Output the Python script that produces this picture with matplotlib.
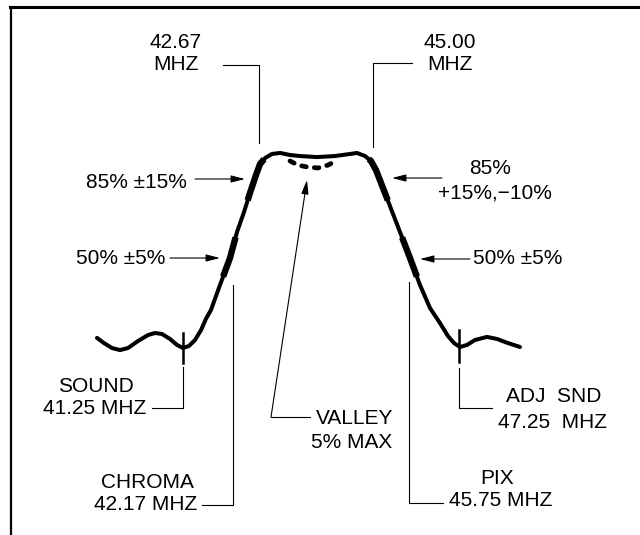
"""IF response curve with tolerance markers (recreated diagram)."""
import matplotlib.pyplot as plt
import numpy as np

plt.rcParams["font.family"] = ["Liberation Sans", "DejaVu Sans"]

# response curve: horizontal drawing position and relative response (%)
curve_x = [97, 104, 112, 120, 128, 138, 148, 155, 162, 170, 177, 183, 189,
           195, 201, 206, 211, 220, 230, 237, 244, 250, 256, 260, 265, 272,
           280, 290, 300, 317, 335, 350, 357, 365, 371, 376, 383, 390, 400,
           410, 420, 430, 440, 448, 454, 460, 467, 475, 487, 497, 508, 520]
curve_pct = [11.2, 8.7, 6.3, 5.3, 6.3, 9.7, 12.6, 13.6, 13.1, 10.7, 7.8, 6.3,
             7.3, 10.2, 15.0, 20.5, 24.8, 36.9, 50.0, 62.6, 72.3, 81.6, 90.3,
             95.6, 98.5, 100.5, 101.0, 100.0, 99.5, 99.0, 99.5, 100.5, 101.0,
             99.5, 97.1, 92.7, 84.0, 75.2, 62.6, 50.0, 36.9, 25.7, 18.4, 12.1,
             8.7, 6.8, 7.8, 10.2, 11.7, 10.7, 8.7, 6.8]

# dotted valley inside the pass band
valley_x = [290, 298, 307, 318, 328, 336]
valley_pct = [97.1, 95.1, 94.2, 93.7, 95.1, 97.1]

# tolerance regions drawn heavier on the slopes (upper %, lower %)
tol_bands = [(98, 78), (60, 41)]

# carrier markers: position, top %, bottom %
carrier_x = [183, 459]
carrier_top = [13.6, 15.0]
carrier_bot = [-1.0, -0.5]

fig = plt.figure(figsize=(6.4, 5.35), dpi=100)

# drawing layer in page units (pixels, y down)
ann = fig.add_axes([0, 0, 1, 1])
ann.set_xlim(0, 640)
ann.set_ylim(535, 0)
ann.axis("off")

# curve layer: response in percent
ax = fig.add_axes([0, 0, 1, 1], sharex=ann)
ax.patch.set_alpha(0)
ax.axis("off")
top_px, half_px = 155, 258
px_per_pct = (half_px - top_px) / 50
zero_px = top_px + 100 * px_per_pct
ax.set_ylim((zero_px - 535) / px_per_pct, zero_px / px_per_pct)

ax.plot(curve_x, curve_pct, color="black", lw=2.9,
        solid_joinstyle="round", solid_capstyle="round")
ax.plot(valley_x, valley_pct, color="black", lw=3.4,
        linestyle=(0, (1.0, 1.7)), dash_capstyle="round")

# heavier tolerance segments on both slopes
cx = np.array(curve_x, dtype=float)
cp = np.array(curve_pct)
for hi, lo in tol_bands:
    for side in (slice(12, 27), slice(33, 45)):
        xs, ps = cx[side], cp[side]
        order = np.argsort(ps)
        x_hi = np.interp(hi, ps[order], xs[order])
        x_lo = np.interp(lo, ps[order], xs[order])
        m = (ps < hi) & (ps > lo)
        seg = sorted([(x_lo, lo), (x_hi, hi)] + list(zip(xs[m], ps[m])))
        sx, sp = zip(*seg)
        ax.plot(sx, sp, color="black", lw=4.6, solid_capstyle="butt")

for x, t, b in zip(carrier_x, carrier_top, carrier_bot):
    ax.plot([x, x], [t, b], color="black", lw=1.8)

# frame
ann.plot([10, 640], [7, 7], color="black", lw=2.2)
ann.plot([11, 11], [7, 535], color="black", lw=1.6)

fs = 15
thin = dict(color="black", lw=0.8)

# top frequency callouts
ann.text(176, 43, "42.67", ha="center", va="center", fontsize=fs)
ann.text(176, 65, "MHZ", ha="center", va="center", fontsize=fs)
ann.plot([223, 259, 259], [65, 65, 143], **thin)
ann.text(450, 43, "45.00", ha="center", va="center", fontsize=fs)
ann.text(450, 65, "MHZ", ha="center", va="center", fontsize=fs)
ann.plot([412, 373, 373], [63, 63, 147], **thin)

# percentage arrows
arrow = dict(arrowstyle="-|>,head_length=0.7,head_width=0.18",
             color="black", lw=0.8, shrinkA=0, shrinkB=0, mutation_scale=12)
ann.text(187, 182, "85% \u00b115%", ha="right", va="center", fontsize=fs)
ann.annotate("", xy=(245, 179), xytext=(195, 179), arrowprops=arrow)
ann.text(165, 258, "50% \u00b15%", ha="right", va="center", fontsize=fs)
ann.annotate("", xy=(220, 258), xytext=(170, 258), arrowprops=arrow)
ann.text(490, 168, "85%", ha="center", va="center", fontsize=fs)
ann.text(495, 193, "+15%,\u221210%", ha="center", va="center", fontsize=fs)
ann.annotate("", xy=(392, 178), xytext=(442, 178), arrowprops=arrow)
ann.text(473, 259, "50% \u00b15%", ha="left", va="center", fontsize=fs)
ann.annotate("", xy=(420, 259), xytext=(470, 259), arrowprops=arrow)

# valley pointer
ann.annotate("", xy=(307, 180), xytext=(271, 417), arrowprops=arrow)
ann.plot([271, 310], [417, 417], **thin)
ann.text(355, 418, "VALLEY", ha="center", va="center", fontsize=fs)
ann.text(352, 443, "5% MAX", ha="center", va="center", fontsize=fs)

# bottom callouts
ann.plot([183, 183, 152], [367, 408, 408], **thin)
ann.text(96, 387, "SOUND", ha="center", va="center", fontsize=fs)
ann.text(95, 409, "41.25 MHZ", ha="center", va="center", fontsize=fs)
ann.plot([233, 233, 202], [285, 505, 505], **thin)
ann.text(147, 483, "CHROMA", ha="center", va="center", fontsize=fs)
ann.text(146, 504, "42.17 MHZ", ha="center", va="center", fontsize=fs)
ann.plot([409, 409, 443], [282, 503, 503], **thin)
ann.text(497, 479, "PIX", ha="center", va="center", fontsize=fs)
ann.text(501, 501, "45.75 MHZ", ha="center", va="center", fontsize=fs)
ann.plot([459, 459, 492], [368, 408, 408], **thin)
ann.text(554, 397, "ADJ  SND", ha="center", va="center", fontsize=fs)
ann.text(553, 422, "47.25  MHZ", ha="center", va="center", fontsize=fs)

fig.savefig("out.png", dpi=100)
